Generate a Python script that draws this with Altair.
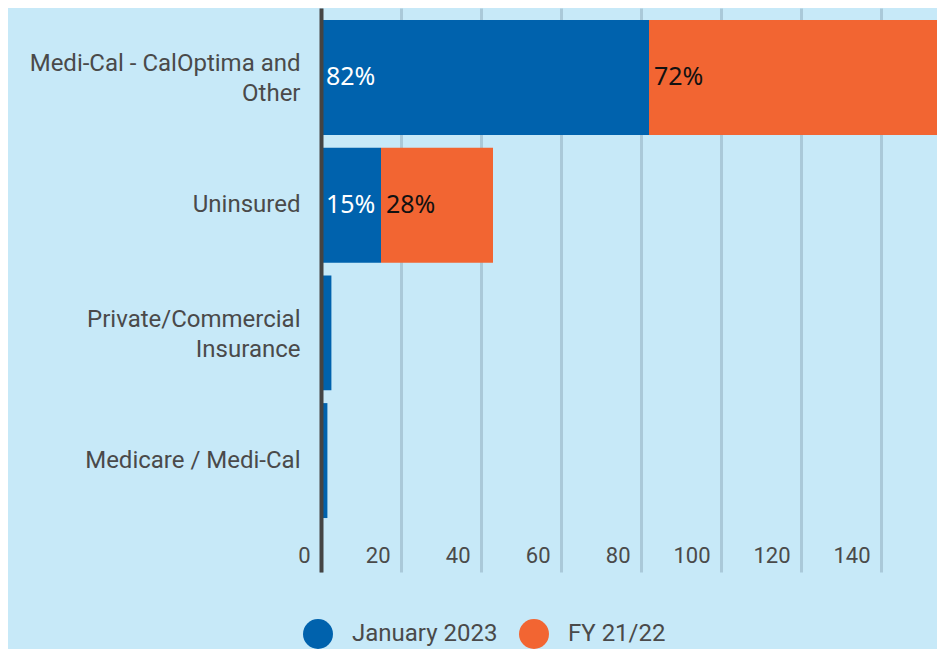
import json
import altair as alt
import pandas as pd

categories = [
    "Medi-Cal - CalOptima and Other",
    "Uninsured",
    "Private/Commercial Insurance",
    "Medicare / Medi-Cal",
]
category_lines = [
    ["Medi-Cal - CalOptima and", "Other"],
    ["Uninsured"],
    ["Private/Commercial", "Insurance"],
    ["Medicare / Medi-Cal"],
]
series = ["January 2023", "FY 21/22"]
jan_2023 = [82, 15, 2.6, 1.6]
fy_21_22 = [72, 28, 0, 0]
jan_labels = ["82%", "15%", "", ""]
fy_labels = ["72%", "28%", "", ""]
x_ticks = [0, 20, 40, 60, 80, 100, 120, 140]

bar_colors = ["#0062ad", "#f26532"]
bg = "#c7e9f8"
text_gray = "#4a4a4a"

rows = []
for i, c in enumerate(categories):
    rows.append(dict(category=c, series=series[0], order=0, value=jan_2023[i], label=jan_labels[i]))
    rows.append(dict(category=c, series=series[1], order=1, value=fy_21_22[i], label=fy_labels[i]))
df = pd.DataFrame(rows)

label_expr = "datum.label"
for name, lines in reversed(list(zip(categories, category_lines))):
    label_expr = f"datum.label === {json.dumps(name)} ? {json.dumps(lines)} : ({label_expr})"

multi_line = [c for c, l in zip(categories, category_lines) if len(l) > 1]
multi_test = " || ".join(f"datum.value === {json.dumps(c)}" for c in multi_line)

x_scale = alt.Scale(domain=[0, 154], nice=False, zero=True)
y_enc = alt.Y(
    "category:N",
    sort=categories,
    scale=alt.Scale(paddingInner=0.1, paddingOuter=0.2583, align=0.182),
    axis=alt.Axis(
        title=None,
        ticks=False,
        tickSize=0,
        grid=False,
        domainColor="#444444",
        domainWidth=4,
        labelFont="Roboto",
        labelFontSize=24,
        labelColor=text_gray,
        labelPadding=21,
        labelLineHeight=30,
        labelLimit=400,
        labelExpr=label_expr,
        labelOffset={"condition": {"test": multi_test, "value": -13}, "value": 0},
        minExtent=313,
        maxExtent=313,
        zindex=1,
    ),
)

base = alt.Chart(df).transform_stack(
    stack="value",
    groupby=["category"],
    as_=["x0", "x1"],
    sort=[alt.SortField("order", order="ascending")],
)

bars = base.mark_bar(strokeWidth=0).encode(
    x=alt.X(
        "x0:Q",
        scale=x_scale,
        axis=alt.Axis(
            title=None,
            values=x_ticks,
            grid=True,
            gridColor="#aac9d9",
            gridWidth=3,
            domain=False,
            ticks=False,
            tickSize=0,
            labelFont="Roboto",
            labelFontSize=22,
            labelColor=text_gray,
            labelAlign="right",
            labelBaseline="middle",
            labelOffset=-11,
            labelPadding=-17,
            labelFlush=False,
            labelOverlap=False,
        ),
    ),
    x2="x1:Q",
    y=y_enc,
    color=alt.Color(
        "series:N",
        sort=series,
        scale=alt.Scale(domain=series, range=bar_colors),
        legend=alt.Legend(
            orient="none",
            legendX=-18,
            legendY=611,
            direction="horizontal",
            title=None,
            symbolType="circle",
            symbolSize=900,
            symbolStrokeWidth=0,
            symbolOpacity=1,
            labelFont="Roboto",
            labelFontSize=24,
            labelColor=text_gray,
            labelOffset=19,
            columnPadding=21,
            padding=0,
            labelLimit=300,
        ),
    ),
)

labels = base.transform_filter("datum.label != ''").mark_text(
    align="left", baseline="middle", dx=5, font="Noto Sans", fontSize=25
).encode(
    x=alt.X("x0:Q", scale=x_scale),
    y=alt.Y("category:N", sort=categories),
    text="label:N",
    color=alt.condition(
        f"datum.series === {json.dumps(series[0])}",
        alt.value("#ffffff"),
        alt.value("#111111"),
    ),
)

chart = (
    alt.layer(bars, labels)
    .properties(width=616, height=564, padding=0, background=bg)
    .configure_view(stroke=None)
)

chart.save("out.html", embed_options={"renderer": "svg", "actions": False})
